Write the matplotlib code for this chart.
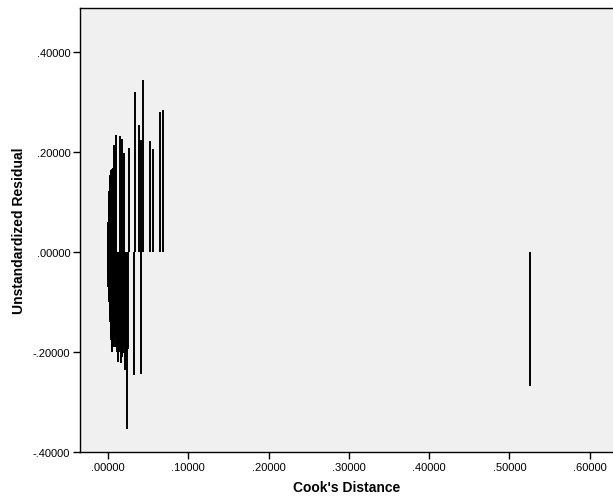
import matplotlib
matplotlib.use("Agg")
import matplotlib.pyplot as plt
from matplotlib.ticker import FuncFormatter

# Cook's distance (x) and unstandardized residual (y), drop-lines from 0
cooks_pos = [0.0000, 0.0002, 0.0004, 0.0006, 0.0008, 0.0010, 0.0012, 0.0015,
             0.0018, 0.0021, 0.0024, 0.0027, 0.0030, 0.0034, 0.0038, 0.0042,
             0.0046, 0.0050, 0.0055, 0.0060, 0.0066, 0.0072,
             0.0079, 0.0085, 0.0104, 0.0153, 0.0178, 0.0198, 0.0260,
             0.0334, 0.0380, 0.0415, 0.0432, 0.0523, 0.0556, 0.0644, 0.0685]
resid_pos = [0.020, 0.045, 0.060, 0.075, 0.088, 0.095, 0.102, 0.110,
             0.122, 0.130, 0.140, 0.150, 0.155, 0.160, 0.165, 0.158,
             0.162, 0.167, 0.150, 0.168, 0.160, 0.170,
             0.214, 0.210, 0.235, 0.233, 0.226, 0.198, 0.209,
             0.320, 0.254, 0.224, 0.345, 0.222, 0.207, 0.280, 0.285]

cooks_neg = [0.0001, 0.0003, 0.0005, 0.0009, 0.0013, 0.0017, 0.0020, 0.0025,
             0.0029, 0.0033, 0.0036, 0.0040, 0.0044, 0.0048,
             0.0065, 0.0075, 0.0085, 0.0095, 0.0104, 0.0110, 0.0129, 0.0140,
             0.0146, 0.0155, 0.0166, 0.0175, 0.0190, 0.0200, 0.0212, 0.0227,
             0.0240, 0.0253, 0.0324, 0.0407, 0.5255]
resid_neg = [-0.030, -0.050, -0.070, -0.076, -0.090, -0.100, -0.110, -0.130,
             -0.140, -0.150, -0.165, -0.175, -0.190, -0.200,
             -0.180, -0.190, -0.170, -0.160, -0.189, -0.200, -0.219, -0.200,
             -0.174, -0.190, -0.222, -0.210, -0.202, -0.190, -0.236, -0.222,
             -0.354, -0.194, -0.246, -0.244, -0.267]

xticks = [0.0, 0.1, 0.2, 0.3, 0.4, 0.5, 0.6]
yticks = [-0.4, -0.2, 0.0, 0.2, 0.4]

plt.rcParams['font.family'] = ['Liberation Sans', 'DejaVu Sans']

fig = plt.figure(figsize=(6.13, 5.02), dpi=100)
ax = fig.add_axes([80/613, 49/502, 533/613, 444/502])
ax.set_facecolor('#F0F0F0')

ax.vlines(cooks_pos, 0, resid_pos, colors='black', linewidth=1.4)
ax.vlines(cooks_neg, 0, resid_neg, colors='black', linewidth=1.4)

ax.set_xlim(-0.0349, 0.629)
ax.set_ylim(-0.4, 0.488)
ax.set_xticks(xticks)
ax.set_yticks(yticks)

def fmt(v, pos):
    s = "%.5f" % v
    if s.startswith("-0"):
        s = "-" + s[2:]
    elif s.startswith("0"):
        s = s[1:]
    if s == "-.00000":
        s = ".00000"
    return s

ax.xaxis.set_major_formatter(FuncFormatter(fmt))
ax.yaxis.set_major_formatter(FuncFormatter(fmt))
ax.tick_params(direction='out', length=5, width=1, labelsize=8, colors='black', pad=2)

for side in ['left', 'bottom', 'top']:
    ax.spines[side].set_color('black')
    ax.spines[side].set_linewidth(1)
ax.spines['right'].set_visible(False)

ax.set_xlabel("Cook's Distance", fontsize=10, fontweight='bold', labelpad=6)
ax.set_ylabel("Unstandardized Residual", fontsize=10, fontweight='bold', labelpad=5)

fig.savefig("out.png", dpi=100)
